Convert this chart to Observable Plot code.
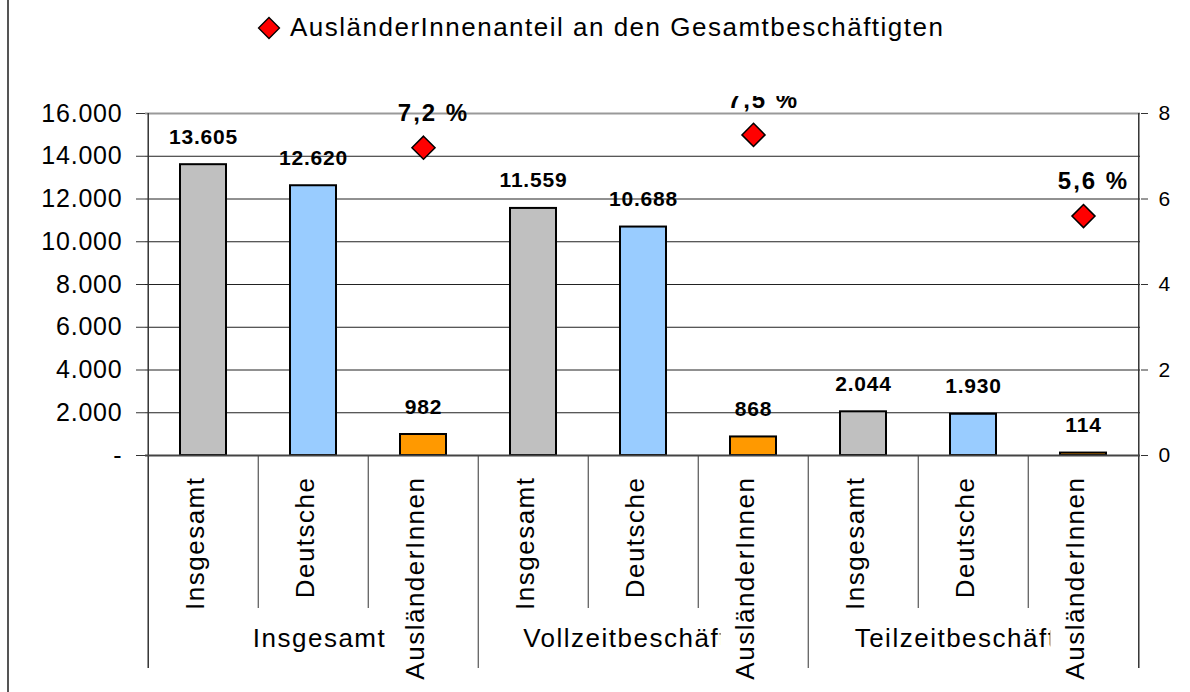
<!DOCTYPE html>
<html>
<head>
<meta charset="utf-8">
<script src="https://cdn.jsdelivr.net/npm/d3@7"></script>
<script src="https://cdn.jsdelivr.net/npm/@observablehq/plot@0.6"></script>
<style>
  html, body { margin: 0; padding: 0; background: #fff; }
  #wrap { position: relative; width: 1190px; height: 692px; overflow: hidden; background: #fff;
          font-family: "Liberation Sans", Arial, sans-serif; }
  #border { position: absolute; left: 7px; top: 0; width: 2px; height: 692px; background: #555; }
  #legend { position: absolute; left: 0; top: 0; width: 1190px; height: 96px; }
  #legend svg { position: absolute; left: 257px; top: 16px; }
  #legend span { position: absolute; left: 290px; top: 11px; font-size: 26px; line-height: 32px;
                 letter-spacing: 1.5px; color: #000; white-space: nowrap; }
  #chart { position: absolute; left: 0; top: 96px; }
</style>
</head>
<body>
<div id="wrap">
  <div id="legend"></div>
  <div id="chart"></div>
  <div id="border"></div>
</div>
<script>
// ---- data ----
const groups = ["Insgesamt", "Vollzeitbeschäftigte", "Teilzeitbeschäftigte"];
const subgroups = ["Insgesamt", "Deutsche", "AusländerInnen"];
const employees = [13605, 12620, 982, 11559, 10688, 868, 2044, 1930, 114];
const foreignShare = [7.2, 7.5, 5.6];
const leftTicks = [0, 2000, 4000, 6000, 8000, 10000, 12000, 14000, 16000];
const rightTicks = [0, 2, 4, 6, 8];
const barColors = ["#C0C0C0", "#99CCFF", "#FF9900"];
const shareColor = "#FF0000";
const legendLabel = "AusländerInnenanteil an den Gesamtbeschäftigten";

// ---- derived tables ----
const rows = [];
groups.forEach((g, gi) => subgroups.forEach((s, si) => rows.push({
  key: g + "|" + s, group: g, sub: s, value: employees[gi * 3 + si], color: barColors[si], first: si === 0
})));
const keys = rows.map(d => d.key);
const shareRows = groups.map((g, gi) => ({ key: g + "|" + subgroups[2], share: foreignShare[gi] }));
const groupRows = groups.map(g => ({ key: g + "|" + subgroups[1], group: g }));
const ratio = leftTicks[leftTicks.length - 1] / rightTicks[rightTicks.length - 1];

const fmtNum = d => d3.format(",")(d).replace(/,/g, ".");
const fmtLeft = d => d === 0 ? "-" : fmtNum(d);
const fmtPct = d => d.toFixed(1).replace(".", ",") + " %";

// ---- layout ----
const W = 1190, H = 596, mL = 145, mR = 50, mT = 17, mB = 237;
const frameH = H - mT - mB;
const bw = (W - mL - mR) / keys.length;

// ---- legend ----
const legend = document.getElementById("legend");
legend.innerHTML = `<svg width="24" height="24" viewBox="-12 -12 24 24"><path d="M0,-10.5L10.5,0L0,10.5L-10.5,0Z" fill="${shareColor}" stroke="#000" stroke-width="1.3"/></svg><span></span>`;
legend.querySelector("span").textContent = legendLabel;

const boundaryShort = rows.filter(d => !d.first);
const boundaryLong = rows.filter(d => d.first && d.key !== keys[0]);

const chart = Plot.plot({
  width: W, height: H,
  marginLeft: mL, marginRight: mR, marginTop: mT, marginBottom: mB,
  style: { fontFamily: "Liberation Sans, Arial, sans-serif", color: "#000", background: "transparent", overflow: "hidden" },
  x: { type: "band", domain: keys, padding: 0, axis: null },
  y: { domain: [0, leftTicks[leftTicks.length - 1]] },
  color: { type: "identity" },
  marks: [
    Plot.ruleY(leftTicks.slice(1, -1), { stroke: "#222", strokeWidth: 1 }),
    Plot.ruleY([leftTicks[leftTicks.length - 1]], { stroke: "#999", strokeWidth: 2 }),
    // category separators below axis
    Plot.ruleX(boundaryShort, { x: "key", dx: -bw / 2, insetTop: frameH, insetBottom: -153, stroke: "#333", strokeWidth: 1 }),
    Plot.ruleX(boundaryLong, { x: "key", dx: -bw / 2, insetTop: frameH, insetBottom: -213, stroke: "#333", strokeWidth: 1 }),
    // axis lines (left / right) extending down as group separators
    Plot.ruleX([keys[0]], { dx: -bw / 2, insetBottom: -213, stroke: "#333", strokeWidth: 1.5 }),
    Plot.ruleX([keys[keys.length - 1]], { dx: bw / 2, insetBottom: -213, stroke: "#333", strokeWidth: 1.5 }),
    Plot.barY(rows, { x: "key", y: "value", fill: "color", stroke: "#000", strokeWidth: 2, insetLeft: 32, insetRight: 32 }),
    Plot.ruleY([0], { stroke: "#444", strokeWidth: 2 }),
    Plot.axisY(leftTicks, { anchor: "left", tickSize: 9, tickPadding: 14, tickFormat: fmtLeft, fontSize: 25, label: null, stroke: "#333" }),
    Plot.axisY(rightTicks.map(d => d * ratio), { anchor: "right", tickSize: 7, tickPadding: 11, tickFormat: d => String(d / ratio), fontSize: 21, label: null, stroke: "#333" }),
    Plot.text(rows, { x: "key", y: "value", text: d => fmtNum(d.value), lineAnchor: "bottom", dy: -21, fontWeight: "bold", fontSize: 21 }),
    Plot.dot(shareRows, { x: "key", y: d => d.share * ratio, symbol: "diamond2", r: 10.4, fill: shareColor, stroke: "#000", strokeWidth: 1.5 }),
    Plot.text(shareRows, { x: "key", y: d => d.share * ratio, text: d => fmtPct(d.share), lineAnchor: "bottom", dx: 10, dy: -27, fontWeight: "bold", fontSize: 24 }),
    Plot.text(rows, { x: "key", text: "sub", frameAnchor: "bottom", rotate: -90, textAnchor: "end", dy: 21, fontSize: 26 }),
    Plot.text(groupRows, { x: "key", text: "group", frameAnchor: "bottom", dx: 6, dy: 191, fontSize: 26 })
  ]
});
document.getElementById("chart").appendChild(chart);

// text mark groups in mark order: bar labels, pct labels, category labels, group labels
const textGroups = Array.from(chart.querySelectorAll('g[aria-label="text"]'));
const [gBar, gPct, gCat, gGroup] = textGroups;
if (gBar) gBar.style.letterSpacing = "0.8px";
if (gPct) gPct.style.letterSpacing = "2px";
if (gCat) gCat.style.letterSpacing = "1.5px";
if (gGroup) gGroup.style.letterSpacing = "1.5px";
chart.querySelectorAll('g[aria-label="y-axis tick label"]').forEach(g => g.style.letterSpacing = "0.8px");

// clip the group labels where the rotated labels begin (as in the original)
const xs = chart.scale("x");
const startsAtBand = Math.abs(xs.apply(keys[0]) - mL) < 1;
const centerOf = k => xs.apply(k) + (startsAtBand ? bw / 2 : 0);
const ns = "http://www.w3.org/2000/svg";
const defs = document.createElementNS(ns, "defs");
const cp = document.createElementNS(ns, "clipPath");
cp.setAttribute("id", "group-clip");
cp.setAttribute("clipPathUnits", "userSpaceOnUse");
let prev = 0;
groups.forEach((g) => {
  const end = centerOf(g + "|" + subgroups[2]) - 39;
  const r = document.createElementNS(ns, "rect");
  r.setAttribute("x", prev); r.setAttribute("y", -2000);
  r.setAttribute("width", Math.max(0, end - prev)); r.setAttribute("height", 4000);
  cp.appendChild(r);
  prev = end + 60;
});
defs.appendChild(cp);
chart.appendChild(defs);
if (gGroup) gGroup.setAttribute("clip-path", "url(#group-clip)");
</script>
</body>
</html>
